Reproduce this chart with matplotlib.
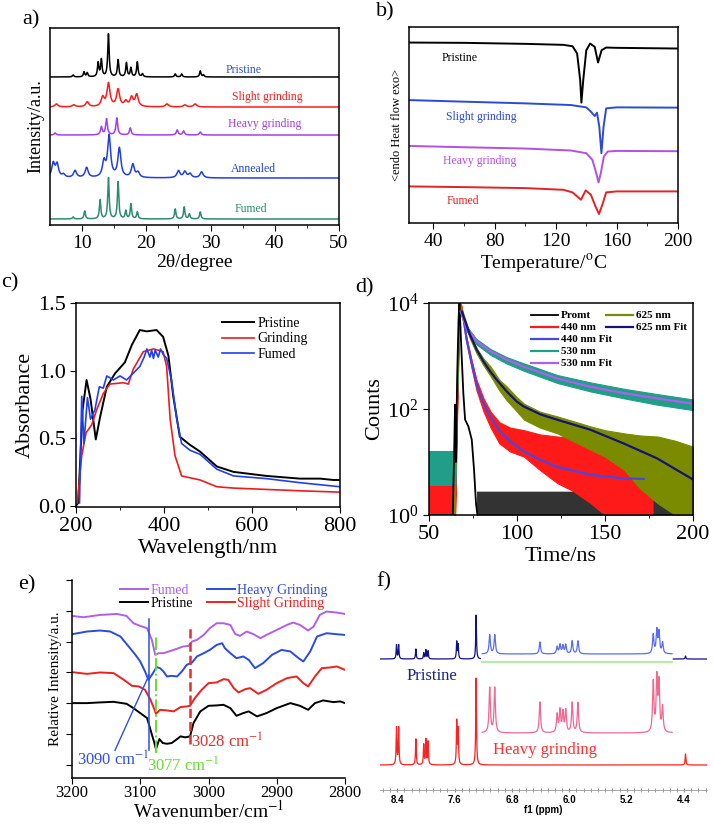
import matplotlib.pyplot as plt
import numpy as np

plt.rcParams['font.family'] = ['Liberation Serif', 'DejaVu Serif']
plt.rcParams['mathtext.fontset'] = 'stix'
plt.rcParams['axes.linewidth'] = 1.1
plt.rcParams['xtick.direction'] = 'out'
plt.rcParams['ytick.direction'] = 'out'
plt.rcParams['xtick.major.size'] = 4
plt.rcParams['ytick.major.size'] = 4
plt.rcParams['xtick.minor.size'] = 2
plt.rcParams['ytick.minor.size'] = 2

# ---------------- a) XRD ----------------
xrd_labels = ['Pristine', 'Slight grinding', 'Heavy grinding', 'Annealed', 'Fumed']
xrd_offsets = [148, 118, 90, 47, 6]
xrd_pos = [
    [8.6, 10.3, 10.8, 12.5, 13.0, 14.1, 15.6, 16.9, 17.6, 18.6, 19.4, 24.5, 25.5, 28.4, 28.9],
    [6.0, 8.7, 10.8, 13.2, 14.1, 15.6, 16.8, 17.7, 18.5, 23.2, 26.0, 27.6],
    [5.8, 13.0, 13.8, 15.4, 17.5, 24.8, 25.8, 28.4],
    [5.5, 6.1, 7.1, 8.9, 10.7, 13.4, 14.2, 15.8, 17.9, 18.7, 25.0, 26.0, 26.8, 28.6],
    [8.6, 10.4, 12.8, 14.1, 15.6, 16.8, 17.6, 18.6, 24.5, 25.9, 26.7, 28.4],
]
xrd_height = [
    [2, 5, 4, 14, 17, 43, 17, 14, 9, 15, 3, 3, 3, 6, 2],
    [3, 2, 5, 9, 23, 17, 5, 9, 12, 3, 2, 3],
    [2, 8, 16, 17, 7, 5, 4, 3],
    [14, 13, 3, 7, 10, 15, 41, 29, 13, 5, 7, 6, 4, 6],
    [2, 8, 19, 41, 37, 8, 15, 7, 10, 12, 5, 7],
]
xrd_width = [0.13, 0.28, 0.16, 0.28, 0.13]
xrd_colors = ['black', '#ff1a1a', '#a040f0', '#1f3fe0', '#2e8b6e']
xrd_text_colors = ['#3355cc', '#ee2222', '#a040e0', '#2244cc', '#2e8b6e']
xrd_text_xy = [(35.2, 155), (38.8, 128), (38.5, 101), (36.6, 56), (36.3, 16)]

# ---------------- b) DSC ----------------
dsc_labels = ['Pristine', 'Slight grinding', 'Heavy grinding', 'Fumed']
dsc_T = [
    [24, 60, 100, 125, 131, 134, 136, 136.8, 138, 140, 142.5, 145.5, 147.7, 150, 153, 160, 200],
    [24, 60, 100, 130, 140, 143, 145.5, 147, 148.5, 149.9, 151.3, 153, 160, 200],
    [24, 60, 100, 130, 140, 144, 146.5, 148, 149.5, 151.5, 154, 160, 200],
    [24, 60, 100, 125, 131, 134, 136.5, 139.6, 143, 146, 148.3, 150.5, 153, 160, 200],
]
dsc_flow = [
    [181, 180.7, 179.7, 178.7, 177.3, 170, 143.3, 120.7, 143.3, 173.3, 180, 176.7, 161, 173.3, 176, 175.7, 175],
    [123.3, 121.7, 120, 118.3, 116, 111.7, 107.3, 110.7, 96.7, 70, 96.7, 115, 116, 115.7],
    [77.3, 76, 74.7, 72.7, 70, 63.3, 50, 40.7, 50, 66.7, 71.7, 72.3, 72],
    [36.7, 36, 35, 33.3, 30.7, 26.7, 23.3, 32.7, 28.3, 16.7, 9, 18.3, 30.7, 31.7, 31.7],
]
dsc_colors = ['black', '#2a4bd7', '#b050e8', '#e52222']
dsc_text_xy = [(57, 166), (71, 106), (70, 62), (59, 22)]

# ---------------- c) UV-vis ----------------
uv_pristine_wl = [200, 205, 215, 224, 233, 245, 255, 270, 289, 311, 327, 345, 361, 383, 398, 410,
                  421, 436, 459, 482, 520, 558, 633, 709, 755, 785, 800]
uv_pristine_A = [0.0, 0.02, 0.71, 0.93, 0.79, 0.49, 0.66, 0.88, 0.98, 1.06, 1.19, 1.30, 1.29, 1.30,
                 1.25, 1.11, 0.81, 0.51, 0.45, 0.40, 0.29, 0.25, 0.22, 0.20, 0.20, 0.19, 0.19]
uv_grinding_wl = [203, 213, 223, 236, 247, 262, 277, 308, 319, 330, 353, 376, 398, 406, 414, 425,
                  440, 482, 520, 558, 633, 709, 800]
uv_grinding_A = [0.02, 0.37, 0.54, 0.60, 0.71, 0.83, 0.90, 0.91, 0.90, 1.01, 1.14, 1.16, 1.14, 1.03,
                 0.64, 0.37, 0.22, 0.19, 0.14, 0.13, 0.12, 0.11, 0.10]
uv_fumed_wl = [208, 213, 218, 226, 233, 243, 253, 262, 270, 285, 300, 315, 330, 345, 355, 361, 368,
               372, 376, 380, 387, 392, 398, 406, 417, 429, 440, 459, 482, 520, 558, 633, 709, 800]
uv_fumed_A = [0.02, 0.81, 0.46, 0.80, 0.64, 0.71, 0.88, 0.87, 0.96, 0.93, 0.96, 0.93, 0.98, 1.03,
              1.10, 1.16, 1.10, 1.15, 1.09, 1.15, 1.10, 1.16, 1.12, 1.09, 0.93, 0.64, 0.46, 0.41,
              0.38, 0.27, 0.22, 0.20, 0.17, 0.14]

# ---------------- d) decay (log10 counts) ----------------
prompt_t = [50, 63.5, 64.3, 64.8, 65.3, 66.0, 66.8, 67.3, 68.3, 69.5, 70.5, 72.4, 74.3, 75.6, 76.7, 77.5]
prompt_log = [0, 0, 1.2, 2.08, 1.0, 2.6, 3.7, 4.0, 3.2, 2.3, 1.8, 1.67, 1.42, 0.85, 0.22, 0]
prompt_floor_t = [77, 172, 173, 200]
prompt_floor_log = [0.45, 0.45, 0.3, 0.3]

d440_t = [64.8, 65.8, 66.8, 67.7, 68.5, 71, 74, 77, 81, 85, 90, 96, 104, 113, 123, 132, 142, 150, 160, 170, 177]
d440_lo = [0, 1.6, 3.1, 3.95, 3.85, 3.3, 2.8, 2.35, 1.95, 1.65, 1.35, 1.2, 1.1, 0.85, 0.6, 0.45, 0.22, 0, 0, 0, 0]
d440_hi = [0, 1.8, 3.3, 4.0, 3.95, 3.4, 2.95, 2.55, 2.2, 1.95, 1.75, 1.65, 1.6, 1.52, 1.48, 1.45, 1.42, 1.35, 1.1, 0.8, 0.6]
d440_pre_log = 0.55

d530_t = [64.5, 65.5, 66.5, 67.5, 68.5, 71.4, 77, 85, 94, 104, 123, 142, 161, 180, 200]
d530_lo = [0, 1.5, 3.0, 3.85, 3.75, 3.47, 3.22, 3.02, 2.86, 2.72, 2.49, 2.33, 2.20, 2.08, 1.98]
d530_hi = [0, 1.7, 3.2, 3.95, 3.85, 3.56, 3.32, 3.13, 2.98, 2.86, 2.64, 2.50, 2.38, 2.28, 2.18]
d530_pre_log = 1.2

d625_t = [64.3, 65.3, 66.3, 67.0, 68, 73, 77, 81, 85, 90, 94, 100, 104, 113, 123, 142, 150, 161, 170, 180, 190, 200]
d625_lo = [0, 1.5, 2.9, 3.9, 3.85, 3.35, 3.05, 2.82, 2.62, 2.35, 2.17, 1.95, 1.80, 1.65, 1.54, 1.23, 1.1, 0.85, 0.5, 0.22, 0, 0]
d625_hi = [0, 1.7, 3.1, 4.0, 3.95, 3.45, 3.15, 2.95, 2.80, 2.55, 2.43, 2.22, 2.10, 1.95, 1.86, 1.67, 1.6, 1.54, 1.50, 1.48, 1.40, 1.29]

fit440_t = [69.2, 71.4, 74.3, 77.1, 80.9, 84.7, 90.4, 96.1, 103.7, 113.2, 122.6, 141.6, 160.6, 172]
fit440_log = [3.81, 3.31, 2.87, 2.46, 2.11, 1.86, 1.57, 1.39, 1.20, 1.04, 0.91, 0.76, 0.69, 0.68]
fit530_t = [68, 71.4, 77.1, 84.7, 94.2, 103.7, 122.6, 141.6, 160.6, 179.5, 200]
fit530_log = [3.84, 3.53, 3.28, 3.09, 2.93, 2.80, 2.58, 2.42, 2.30, 2.20, 2.10]
fit625_t = [68.6, 73.3, 77.1, 80.9, 84.7, 88.5, 94.2, 99.9, 103.7, 113.2, 122.6, 141.6, 160.6, 179.5, 200]
fit625_log = [3.84, 3.40, 3.12, 2.90, 2.71, 2.55, 2.33, 2.14, 2.05, 1.90, 1.80, 1.61, 1.35, 1.07, 0.67]

# ---------------- e) FTIR ----------------
ir_fumed_wn = [3200, 3183, 3159, 3134, 3120, 3110, 3100, 3090, 3083, 3078, 3073, 3066, 3051, 3037, 3029,
               3024, 3017, 3007, 2998, 2988, 2978, 2968, 2961, 2954, 2944, 2934, 2924, 2915, 2900,
               2885, 2876, 2866, 2854, 2846, 2837, 2827, 2812, 2800]
ir_fumed = [162.3, 161, 163.3, 164.3, 162.3, 155, 152.3, 150, 138.3, 123.3, 125, 125, 128.3, 131.7,
            132.3, 136.7, 138.3, 143.3, 150, 155, 155, 153.3, 144.3, 142.3, 146.7, 144, 140, 143.3,
            148.3, 153.3, 155.7, 153.3, 147.7, 151.7, 163.3, 166.7, 165.7, 164.3]
ir_heavy_wn = [3200, 3178, 3159, 3144, 3129, 3117, 3107, 3100, 3093, 3088, 3083, 3076, 3071, 3066, 3061,
               3054, 3046, 3039, 3032, 3024, 3017, 3007, 2998, 2988, 2980, 2976, 2968, 2959, 2949,
               2941, 2932, 2920, 2907, 2893, 2880, 2868, 2861, 2851, 2841, 2827, 2812, 2800]
ir_heavy = [144, 146.7, 147.7, 146.7, 141.7, 131.7, 123.3, 116.7, 106.7, 98.3, 103.3, 111, 110, 106.7,
            101.7, 102.3, 101.7, 106.7, 113.3, 115.7, 121.7, 125, 128.3, 133.3, 135, 130, 125, 120,
            121.7, 118.3, 110, 115, 123.3, 128.3, 126.7, 120, 116.7, 126.7, 141.7, 145, 144, 143.3]
ir_slight_wn = [3200, 3178, 3159, 3139, 3124, 3112, 3102, 3093, 3085, 3080, 3077, 3071, 3061, 3051,
                3041, 3032, 3027, 3020, 3010, 3000, 2988, 2978, 2971, 2963, 2956, 2946, 2939, 2927,
                2915, 2900, 2885, 2871, 2861, 2854, 2844, 2834, 2822, 2812, 2800]
ir_slight = [106, 104.3, 105.7, 105, 98.3, 92.3, 91.7, 88.3, 78.3, 70, 64.3, 68.3, 67.7, 66.7, 71,
             71.7, 72.3, 80, 88.3, 95, 95.7, 99, 98.3, 90, 85.7, 89, 90, 84.3, 88.3, 95, 100, 101.7,
             95, 91.7, 101.7, 110, 110.7, 111.7, 108.3]
ir_pristine_wn = [3200, 3178, 3159, 3139, 3120, 3110, 3100, 3090, 3085, 3080, 3077, 3072, 3067, 3061,
                  3054, 3046, 3041, 3034, 3027, 3022, 3012, 3000, 2988, 2978, 2968, 2959, 2949, 2941,
                  2929, 2915, 2900, 2880, 2866, 2854, 2844, 2832, 2817, 2807, 2800]
ir_pristine = [75, 75, 75.7, 76.3, 74.3, 70, 65, 60, 48.3, 36.7, 29, 39, 35, 34.3, 35, 39, 41.7, 40.7,
               41.7, 55, 66.7, 72.3, 72.7, 73.3, 70, 62.3, 65, 66.7, 61.7, 65, 70, 75, 72.3, 68.3, 75,
               77.7, 76, 76.7, 75]

# ---------------- f) 1H NMR ----------------
nmr_main_ppm = [8.41, 8.38, 8.14, 8.03, 8.00, 7.97, 7.57, 7.55, 7.30, 4.38]
nmr_pristine_h = [14, 14, 10, 6, 9, 8, 17, 14, 44, 3]
nmr_ground_h = [37, 37, 26, 20, 25, 23, 43, 35, 87, 11]
nmr_inset_ppm = [7.11, 7.04, 6.41, 6.17, 6.13, 6.09, 6.05, 5.96, 5.88, 4.83, 4.78, 4.75, 4.70]
nmr_inset_pristine_h = [19, 19, 12, 7, 9, 8, 9, 13, 13, 19, 23, 21, 11]
nmr_inset_ground_h = [45, 45, 31, 18, 22, 20, 22, 30, 30, 50, 53, 48, 25]


W, H = 714, 824
fig = plt.figure(figsize=(W / 100, H / 100), dpi=100)


def box(l, t, r, b):
    return fig.add_axes([l / W, 1 - b / H, (r - l) / W, (b - t) / H])


def lorentz(x, pos, hts, w):
    y = np.zeros_like(x)
    for p, h in zip(pos, hts):
        y += h / (1 + ((x - p) / w) ** 2)
    return y


# ---- a
ax = box(50, 28, 339, 225)
x = np.linspace(5, 50, 4000)
for i in range(5):
    ax.plot(x, xrd_offsets[i] + lorentz(x, xrd_pos[i], xrd_height[i], xrd_width[i]),
            color=xrd_colors[i], lw=1.1)
    ax.text(*xrd_text_xy[i], xrd_labels[i], color=xrd_text_colors[i], fontsize=8.5,
            ha='center', va='center')
ax.set_xlim(5, 50)
ax.set_ylim(0, 197)
ax.set_yticks([])
ax.set_xticks([10, 20, 30, 40, 50])
ax.set_xticks([15, 25, 35, 45], minor=True)
ax.tick_params(labelsize=14)
ax.set_xlabel('2θ/degree', fontsize=14, labelpad=1)
ax.set_ylabel('Intensity/a.u.', fontsize=13, labelpad=4)

# ---- b
ax = box(409, 27, 678, 223)
for i in range(4):
    ax.plot(dsc_T[i], dsc_flow[i], color=dsc_colors[i], lw=1.4)
    ax.text(*dsc_text_xy[i], dsc_labels[i], color=dsc_colors[i], fontsize=8.5,
            ha='center', va='center')
ax.set_xlim(24, 200)
ax.set_ylim(0, 196.6)
ax.set_yticks([])
ax.set_xticks([40, 80, 120, 160, 200])
ax.set_xticks([60, 100, 140, 180], minor=True)
ax.tick_params(labelsize=14)
ax.set_xlabel('Temperature/$^{\\rm o}$C', fontsize=14, labelpad=1)
ax.set_ylabel('<endo Heat flow exo>', fontsize=9, labelpad=4)

# ---- c
ax = box(76, 303, 340, 507)
ax.plot(uv_pristine_wl, uv_pristine_A, color='black', lw=1.4, label='Pristine')
ax.plot(uv_grinding_wl, uv_grinding_A, color='#ee1c1c', lw=1.2, label='Grinding')
ax.plot(uv_fumed_wl, uv_fumed_A, color='#2040f0', lw=1.2, label='Fumed')
ax.set_xlim(200, 800)
ax.set_ylim(-0.01, 1.5)
ax.set_xticks([200, 400, 600, 800])
ax.set_xticks([300, 500, 700], minor=True)
ax.set_yticks([0.0, 0.5, 1.0, 1.5])
ax.set_yticklabels(['0.0', '0.5', '1.0', '1.5'])
ax.tick_params(labelsize=16)
ax.set_xlabel('Wavelength/nm', fontsize=16, labelpad=2)
ax.set_ylabel('Absorbance', fontsize=16, labelpad=2)
ax.legend(loc='upper right', bbox_to_anchor=(0.9, 0.96), frameon=False, fontsize=10,
          handlelength=2.3, handletextpad=0.3, labelspacing=0.2, borderaxespad=0)

# ---- d
ax = box(429, 303, 693, 515)
ax.set_yscale('log')
ax.fill_between([50, 64.5], 1, 10 ** d530_pre_log, color='#1f9e89', lw=0)
ax.fill_between([50, 64.5], 1, 10 ** d440_pre_log, color='#ff1a1a', lw=0)
ax.fill_between(prompt_floor_t, 1, 10 ** np.array(prompt_floor_log), color='black', alpha=0.8, lw=0)
h_prompt, = ax.plot(prompt_t, 10 ** np.array(prompt_log), color='black', lw=1.3)
ax.fill_between(d440_t, 10 ** np.array(d440_lo), 10 ** np.array(d440_hi), color='#ff1a1a',
                lw=0.8, edgecolor='#ff1a1a')
h_fit440, = ax.plot(fit440_t, 10 ** np.array(fit440_log), color='#4848e0', lw=1.6)
ax.fill_between(d530_t, 10 ** np.array(d530_lo), 10 ** np.array(d530_hi), color='#1f9e89',
                lw=0.8, edgecolor='#1f9e89')
h_fit530, = ax.plot(fit530_t, 10 ** np.array(fit530_log), color='#b060e8', lw=1.6)
ax.fill_between(d625_t, 10 ** np.array(d625_lo), 10 ** np.array(d625_hi), color='#7b8b00',
                lw=0.8, edgecolor='#7b8b00')
h_fit625, = ax.plot(fit625_t, 10 ** np.array(fit625_log), color='#141478', lw=1.6)
ax.set_xlim(50, 200)
ax.set_ylim(1, 1e4)
ax.set_xticks([50, 100, 150, 200])
ax.set_xticks([75, 125, 175], minor=True)
ax.tick_params(labelsize=16)
ax.set_xlabel('Time/ns', fontsize=16, labelpad=2)
ax.set_ylabel('Counts', fontsize=16, labelpad=2)
lk = dict(frameon=False, prop={'size': 8, 'weight': 'bold'}, handlelength=2.4,
          handletextpad=0.3, labelspacing=0.2, borderaxespad=0, loc='upper left')
h440 = plt.Line2D([], [], color='#ff1a1a', lw=1.6)
h530 = plt.Line2D([], [], color='#1f9e89', lw=1.6)
h625 = plt.Line2D([], [], color='#7b8b00', lw=1.6)
leg1 = ax.legend([h_prompt, h440, h_fit440, h530, h_fit530],
                 ['Promt', '440 nm', '440 nm Fit', '530 nm', '530 nm Fit'],
                 bbox_to_anchor=(0.37, 0.985), **lk)
ax.add_artist(leg1)
ax.legend([h625, h_fit625], ['625 nm', '625 nm Fit'], bbox_to_anchor=(0.655, 0.985), **lk)

# ---- e
ax = box(72, 580, 345, 778)
ax.plot(ir_fumed_wn, ir_fumed, color='#b060e8', lw=1.4, label='Fumed')
ax.plot(ir_pristine_wn, ir_pristine, color='black', lw=1.4, label='Pristine')
ax.plot(ir_heavy_wn, ir_heavy, color='#2a4be0', lw=1.4, label='Heavy Grinding')
ax.plot(ir_slight_wn, ir_slight, color='#ee2020', lw=1.4, label='Slight Grinding')
ax.plot([3087, 3087], [28.3, 159.3], color='#3050e0', lw=1.1)
ax.plot([3137, 3087], [27.7, 103.3], color='#3050e0', lw=1.0)
ax.plot([3077, 3077], [25, 141.7], color='#66dd33', lw=1.4, ls='-.')
ax.plot([3027, 3027], [34.3, 151], color='#e03030', lw=1.8, ls='--')
ax.text(3139, 18.3, '3090 cm$^{-1}$', color='#3050e0', fontsize=12, ha='center', va='center')
ax.text(3037, 11.7, '3077 cm$^{-1}$', color='#66dd33', fontsize=12, ha='center', va='center')
ax.text(2973, 36, '3028 cm$^{-1}$', color='#e03030', fontsize=12, ha='center', va='center')
ax.set_xlim(3200, 2800)
ax.set_ylim(0, 198.3)
ax.set_yticks([198.3, 167.7, 136.7, 106, 75, 44.3, 13.3])
ax.set_yticklabels([])
ax.set_xticks([3200, 3100, 3000, 2900, 2800])
ax.spines['top'].set_visible(False)
ax.spines['right'].set_visible(False)
ax.tick_params(labelsize=12, pad=1)
ax.set_xlabel('Wavenumber/cm$^{-1}$', fontsize=14, labelpad=-1)
ax.set_ylabel('Relative Intensity/a.u.', fontsize=11, labelpad=2)
ax.legend(loc='upper left', bbox_to_anchor=(0.155, 1.01), ncol=2, frameon=False, fontsize=10,
          labelcolor='linecolor', handlelength=2.0, handletextpad=0.2, labelspacing=0.0,
          columnspacing=1.0, borderaxespad=0)

# ---- f
ax = box(380, 580, 707, 790)
ppm = np.linspace(8.64, 4.08, 8000)
red_main = 25 + lorentz(ppm, nmr_main_ppm, nmr_ground_h, 0.006)
blue_main = 131 + lorentz(ppm, nmr_main_ppm, nmr_pristine_h, 0.006)
ax.plot(ppm, red_main, color='#ff2020', lw=0.9)
seg1 = ppm >= 7.24
seg2 = ppm <= 4.55
ax.plot(ppm[seg1], blue_main[seg1], color='#10108a', lw=0.9)
ax.plot(ppm[seg2], blue_main[seg2], color='#10108a', lw=0.9)
ins = (ppm <= 7.215) & (ppm >= 4.567)
ax.plot(ppm[ins], 136 + lorentz(ppm[ins], nmr_inset_ppm, nmr_inset_pristine_h, 0.011),
        color='#5a6cf5', lw=0.9)
ax.plot(ppm[ins], 57 + lorentz(ppm[ins], nmr_inset_ppm, nmr_inset_ground_h, 0.011),
        color='#f06890', lw=0.9)
ax.plot([7.215, 4.567], [128, 128], color='#a8e890', lw=1.2)
ax.text(7.92, 114, 'Pristine', color='#1a237e', fontsize=12, ha='center', va='center')
ax.text(6.34, 40, 'Heavy grinding', color='#ff3030', fontsize=12, ha='center', va='center')
ax.set_xlim(8.64, 4.08)
ax.set_ylim(0, 210)
ax.set_yticks([])
for s in ['left', 'top', 'right']:
    ax.spines[s].set_visible(False)
ax.spines['bottom'].set_color('#999999')
ax.spines['bottom'].set_linewidth(0.6)
ax.set_xticks([8.4, 7.6, 6.8, 6.0, 5.2, 4.4])
ax.set_xticklabels(['8.4', '7.6', '6.8', '6.0', '5.2', '4.4'],
                   fontdict={'family': 'Liberation Sans', 'weight': 'bold', 'size': 7})
ax.set_xticks(np.arange(4.1, 8.65, 0.1), minor=True)
ax.tick_params(axis='x', which='both', color='#888888', direction='inout', length=3, pad=2)
ax.set_xlabel('f1 (ppm)', fontdict={'family': 'Liberation Sans', 'weight': 'bold', 'size': 7},
              labelpad=0)

# panel letters
for s, px, py in [('a)', 31, 20), ('b)', 385, 12), ('c)', 10, 283), ('d)', 365, 288),
                  ('e)', 27, 585), ('f)', 384, 582)]:
    fig.text(px / W, 1 - py / H, s, fontsize=16, ha='center', va='center')

fig.savefig('out.png', dpi=100)
